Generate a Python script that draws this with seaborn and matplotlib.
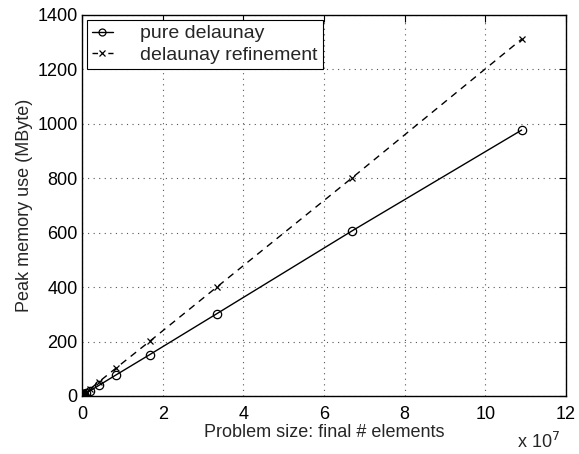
import matplotlib
matplotlib.use("Agg")
import matplotlib.pyplot as plt
import seaborn as sns
import pandas as pd

# Problem size (in units of 1e7 elements)
x_pure = [0.0013, 0.0026, 0.0052, 0.0105, 0.021, 0.042, 0.105, 0.21, 0.42, 0.84, 1.68, 3.35, 6.7, 10.9]
y_pure = [1.0, 1.1, 1.3, 1.8, 3.0, 5.5, 10.5, 20, 39, 77, 152, 303, 607, 977]
x_ref = [0.0013, 0.0026, 0.0052, 0.0105, 0.021, 0.042, 0.105, 0.21, 0.42, 0.84, 1.68, 3.35, 6.7, 10.9]
y_ref = [1.1, 1.3, 1.6, 2.3, 4.0, 7.5, 14, 27, 52, 102, 201, 401, 802, 1311]
xticks = [0, 2, 4, 6, 8, 10, 12]
yticks = [0, 200, 400, 600, 800, 1000, 1200, 1400]

sns.set_style("white")
plt.rcParams['font.family'] = ['Liberation Sans', 'DejaVu Sans']
plt.rcParams['font.size'] = 13

fig = plt.figure(figsize=(5.79, 4.54), dpi=100)
ax = fig.add_axes([0.1416, 0.1278, 0.8359, 0.8392])

df_p = pd.DataFrame({"x": x_pure, "y": y_pure})
df_r = pd.DataFrame({"x": x_ref, "y": y_ref})
sns.lineplot(data=df_p, x="x", y="y", ax=ax, color="black", linewidth=1.0,
             marker="o", markersize=6, markerfacecolor="none", markeredgecolor="black",
             markeredgewidth=0.9, label="pure delaunay")
sns.lineplot(data=df_r, x="x", y="y", ax=ax, color="black", linewidth=1.0,
             linestyle=(0, (5, 4)), marker="x", markersize=5, markeredgecolor="black",
             markeredgewidth=0.9, label="delaunay refinement")

ax.set_xlim(0, 12)
ax.set_ylim(0, 1400)
ax.set_xticks(xticks)
ax.set_yticks(yticks)
ax.set_xticklabels([str(t) for t in xticks])
ax.set_yticklabels([str(t) for t in yticks])
ax.grid(True, linestyle=(0, (1, 4)), color="#555555", linewidth=0.8)
ax.tick_params(direction="in", top=True, right=True, length=5, width=0.8,
               labelsize=13, colors="black")
ax.tick_params(axis="x", pad=7)
ax.tick_params(axis="y", pad=3)
for s in ax.spines.values():
    s.set_visible(True)
    s.set_color("black")
    s.set_linewidth(1.0)

ax.set_xlabel("Problem size: final # elements", fontsize=13, labelpad=1)
ax.set_ylabel("Peak memory use (MByte)", fontsize=13, labelpad=3)
ax.text(0.988, -0.094, r"x 10$^7$", transform=ax.transAxes, ha="right", va="top", fontsize=13)

leg = ax.legend(loc="upper left", frameon=True, fancybox=False, fontsize=14,
                borderaxespad=0.25, handlelength=1.1, handletextpad=1.4,
                borderpad=0.25, labelspacing=0.2)
leg.get_frame().set_edgecolor("black")
leg.get_frame().set_linewidth(0.8)
leg.get_frame().set_alpha(1)
leg_lines = leg.get_lines()
if len(leg_lines) > 1:
    leg_lines[1].set_linestyle((0, (4, 7.4)))
    leg_lines[0].set_markersize(5)

fig.savefig("out.png", dpi=100, facecolor="white")
